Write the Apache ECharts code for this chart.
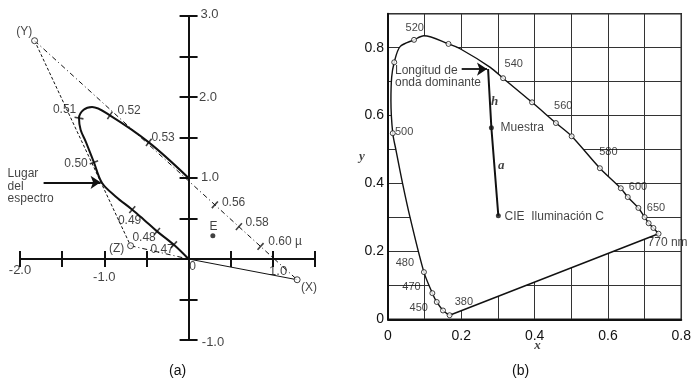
<!DOCTYPE html>
<html>
<head>
<meta charset="utf-8">
<script src="https://cdn.jsdelivr.net/npm/echarts@6.0.0/dist/echarts.min.js"></script>
<style>
html,body{margin:0;padding:0;background:#fff;}
#chart{width:694px;height:381px;}
</style>
</head>
<body>
<div id="chart"></div>
<script>
// ================= Panel (a): r,g chromaticity diagram =================
// tick labels of the crossing axes: value on the axis and text
const aXTickValues = [-2, -1, 1];
const aXTickLabels = ['-2.0', '-1.0', '1.0'];
const aYTickValues = [3, 2, 1, -1];
const aYTickLabels = ['3.0', '2.0', '1.0', '-1.0'];

// spectrum locus (r, g)
const aLocus = [[0,0],[-0.174,0.176],[-0.374,0.341],[-0.53,0.485],[-0.668,0.609],[-0.866,0.773],
  [-1.026,0.938],[-1.123,1.193],[-1.22,1.45],[-1.281,1.596],[-1.30,1.74],[-1.245,1.843],
  [-1.145,1.877],[-0.934,1.773],[-0.472,1.44],[0,1.0]];
// wavelength marks on the locus (µ)
const aLocusMarkNames = ['0.47','0.48','0.49','0.50','0.51','0.52','0.53'];
const aLocusMarks = [[-0.174,0.176],[-0.374,0.341],[-0.668,0.609],[-1.123,1.193],[-1.30,1.74],[-0.934,1.773],[-0.472,1.44]];
// wavelength marks on the Y-X line
const aLineMarkNames = ['0.56','0.58','0.60'];
const aLineMarks = [[0.312,0.669],[0.597,0.399],[0.854,0.155]];
// primaries and equal-energy point
const primaryY = [-1.827, 2.695];
const primaryZ = [-0.688, 0.164];
const primaryX = [1.288, -0.256];
const origin = [0, 0];
const pointE = [0.288, 0.288];

// annotations (text, x, y)
const aLabels = [
  ['(Y)', -1.951, 2.806], ['0.51', -1.471, 1.843], ['0.52', -0.706, 1.831], ['0.53', -0.302, 1.497],
  ['0.50', -1.335, 1.177], ['0.49', -0.70, 0.467], ['0.48', -0.528, 0.257], ['0.47', -0.314, 0.115],
  ['(Z)', -0.854, 0.133], ['0', 0.047, -0.095], ['E', 0.297, 0.399], ['0.56', 0.534, 0.695],
  ['0.58', 0.813, 0.454], ['0.60 µ', 1.145, 0.214], ['(X)', 1.429, -0.348]
];
const aLeftLabels = [['Lugar\ndel\nespectro', -2.147, 1.127]];
const aArrow = [[-1.72, 0.946], [-1.044, 0.946]];

// ================= Panel (b): CIE x,y chromaticity diagram =================
const bXTickLabels = ['0', '0.2', '0.4', '0.6', '0.8'];
const bYTickLabels = ['0', '0.2', '0.4', '0.6', '0.8'];
const bLocus = [[0.168,0.012],[0.150,0.026],[0.133,0.051],[0.121,0.077],[0.098,0.139],[0.060,0.301],
  [0.040,0.399],[0.022,0.497],[0.013,0.548],[0.008,0.644],[0.010,0.713],[0.017,0.757],[0.033,0.803],
  [0.071,0.823],[0.098,0.835],[0.165,0.811],[0.198,0.796],[0.279,0.742],[0.314,0.710],[0.393,0.639],
  [0.458,0.578],[0.501,0.539],[0.578,0.445],[0.635,0.386],[0.654,0.360],[0.683,0.328],[0.700,0.301],
  [0.711,0.283],[0.724,0.269],[0.738,0.252]];
const bMarkers = [[0.168,0.012],[0.150,0.026],[0.133,0.051],[0.121,0.077],[0.098,0.139],[0.013,0.548],
  [0.017,0.757],[0.071,0.823],[0.165,0.811],[0.314,0.710],[0.393,0.639],[0.458,0.578],[0.501,0.539],
  [0.578,0.445],[0.635,0.386],[0.654,0.360],[0.683,0.328],[0.700,0.301],[0.711,0.283],[0.724,0.269],[0.738,0.252]];
const bPurpleLine = [[0.168,0.012],[0.738,0.252]];
const illuminantC = [0.301, 0.305];
const sample = [0.282, 0.564];
const dominant = [0.273, 0.737];

const bLabels = [
  ['520', 0.073, 0.859], ['540', 0.343, 0.752], ['560', 0.478, 0.628], ['580', 0.601, 0.493],
  ['600', 0.682, 0.391], ['650', 0.731, 0.328], ['500', 0.044, 0.552], ['480', 0.046, 0.167],
  ['470', 0.064, 0.095], ['450', 0.084, 0.032], ['380', 0.207, 0.052]
];
const bLeftLabels = [
  ['770 nm', 0.708, 0.225], ['Longitud de', 0.019, 0.731], ['onda dominante', 0.019, 0.697],
  ['Muestra', 0.307, 0.563], ['CIE  Iluminación C', 0.318, 0.302]
];
const bItalicLabels = [['h', 0.291, 0.641], ['a', 0.309, 0.454], ['y', -0.071, 0.478], ['x', 0.408, -0.079]];
const bArrow = [[0.201, 0.737], [0.270, 0.737]];

// ================= Rendering =================
const FONT = 'Liberation Sans, Arial, sans-serif';
const INK = '#111';
// styling-only: rotations of the small cross marks
const aLocusMarkRot = [-42, -40, -41, -68, 80, -33, -38];
const aLineMarkRot = -42;
// styling-only: label placement offsets (in data units) from the tick value
const aXLabelDy = [-0.145, -0.23, -0.157];
const aXLabelDx = [0, 0, 0.062];
const aYLabelDx = [0.249, 0.231, 0.255, 0.29];
const aYLabelDy = [0.016, -0.01, 0.004, -0.03];

function evenLabel(labels, v) {
  const k = Math.round(v * 10);
  if (k % 2 !== 0) return '';
  return labels[k / 2] || '';
}
function annot(list, xi, yi, extra) {
  return Object.assign({
    type: 'scatter', xAxisIndex: xi, yAxisIndex: yi, symbolSize: 0, clip: false, silent: true,
    data: list.map(d => ({ name: d[0], value: [d[1], d[2]] })),
    label: { show: true, position: 'inside', formatter: p => p.name, color: INK, fontSize: 12, fontFamily: FONT },
    z: 10
  }, extra || {});
}
function lineS(data, xi, yi, width, type, extra) {
  return Object.assign({
    type: 'line', xAxisIndex: xi, yAxisIndex: yi, data: data, symbol: 'none', silent: true,
    lineStyle: { color: INK, width: width, type: type }, z: 5
  }, extra || {});
}
function arrowS(pts, xi, yi) {
  return {
    type: 'line', xAxisIndex: xi, yAxisIndex: yi, data: [], silent: true, z: 9,
    markLine: {
      silent: true, symbol: ['none', 'arrow'], symbolSize: 10, animation: false, z: 9,
      itemStyle: { color: INK },
      lineStyle: { color: INK, width: 1.8, type: 'solid' }, label: { show: false },
      emphasis: { disabled: true },
      data: [[{ coord: pts[0] }, { coord: pts[1] }]]
    }
  };
}

const aTickText = []
  .concat(aXTickValues.map((v, i) => [aXTickLabels[i], v + aXLabelDx[i], aXLabelDy[i]]))
  .concat(aYTickValues.map((v, i) => [aYTickLabels[i], aYLabelDx[i], v + aYLabelDy[i]]));

const aAxisBase = {
  gridIndex: 0, type: 'value',
  axisLine: { onZero: true, lineStyle: { color: INK, width: 2 } },
  axisLabel: { show: false },
  splitLine: { show: false }
};

const option = {
  animation: false,
  backgroundColor: '#fff',
  title: [
    { text: '(a)', left: 169, top: 364, padding: 0, textStyle: { fontSize: 14, fontWeight: 'normal', color: INK, fontFamily: FONT } },
    { text: '(b)', left: 512, top: 364, padding: 0, textStyle: { fontSize: 14, fontWeight: 'normal', color: INK, fontFamily: FONT } }
  ],
  grid: [
    { left: 20, top: 16, width: 295, height: 324 },
    { left: 388, top: 13.7, width: 294, height: 305.6, show: true, borderColor: '#222', borderWidth: 1.5, backgroundColor: 'transparent' }
  ],
  xAxis: [
    Object.assign({}, aAxisBase, {
      min: -2, max: 1.5, interval: 0.5, position: 'bottom',
      axisTick: { show: true, inside: false, length: 8, lineStyle: { color: INK, width: 2 } }
    }),
    Object.assign({}, aAxisBase, {
      min: -2, max: 1.5, interval: 0.5, position: 'bottom',
      axisTick: { show: true, inside: true, length: 8, lineStyle: { color: INK, width: 2 } }
    }),
    {
      gridIndex: 1, type: 'value', min: 0, max: 0.8, interval: 0.1,
      axisLine: { lineStyle: { color: INK, width: 2 } }, axisTick: { show: false },
      axisLabel: { margin: 10, fontSize: 14, color: INK, fontFamily: FONT, formatter: v => evenLabel(bXTickLabels, v) },
      splitLine: { show: true, lineStyle: { color: '#333', width: 1 } }
    }
  ],
  yAxis: [
    Object.assign({}, aAxisBase, {
      min: -1, max: 3, interval: 0.5, position: 'left',
      axisTick: { show: true, inside: false, length: 9, lineStyle: { color: INK, width: 2 } }
    }),
    Object.assign({}, aAxisBase, {
      min: -1, max: 3, interval: 0.5, position: 'left',
      axisTick: { show: true, inside: true, length: 9, lineStyle: { color: INK, width: 2 } }
    }),
    {
      gridIndex: 1, type: 'value', min: 0, max: 0.9, interval: 0.1,
      axisLine: { lineStyle: { color: INK, width: 2 } }, axisTick: { show: false },
      axisLabel: { margin: 4, fontSize: 14, color: INK, fontFamily: FONT, formatter: v => evenLabel(bYTickLabels, v) },
      splitLine: { show: true, lineStyle: { color: '#333', width: 1 } }
    }
  ],
  series: [
    // ---------- panel (a) ----------
    lineS([primaryY, primaryZ], 0, 0, 1, [3, 2]),
    lineS([primaryY, primaryX], 0, 0, 1, [5, 3, 1, 3]),
    lineS([primaryZ, origin], 0, 0, 1, [5, 3, 1, 3]),
    lineS([origin, primaryX], 0, 0, 1, 'solid'),
    lineS(aLocus, 0, 0, 2, 'solid', { smooth: 0.35 }),
    {
      type: 'scatter', xAxisIndex: 0, yAxisIndex: 0, silent: true, symbol: 'rect', symbolSize: [1.6, 9],
      itemStyle: { color: INK }, z: 6,
      data: aLocusMarks.map((p, i) => ({ name: aLocusMarkNames[i], value: p, symbolRotate: aLocusMarkRot[i] }))
    },
    {
      type: 'scatter', xAxisIndex: 0, yAxisIndex: 0, silent: true, symbol: 'rect', symbolSize: [1.6, 9],
      itemStyle: { color: INK }, z: 6,
      data: aLineMarks.map((p, i) => ({ name: aLineMarkNames[i], value: p, symbolRotate: aLineMarkRot }))
    },
    {
      type: 'scatter', xAxisIndex: 0, yAxisIndex: 0, silent: true, symbol: 'circle', symbolSize: 6,
      itemStyle: { color: '#fff', borderColor: INK, borderWidth: 1 }, z: 7,
      data: [primaryY, primaryZ, primaryX]
    },
    {
      type: 'scatter', xAxisIndex: 0, yAxisIndex: 0, silent: true, symbol: 'circle', symbolSize: 5,
      itemStyle: { color: INK }, z: 7, data: [pointE]
    },
    annot(aLabels, 0, 0),
    annot(aTickText, 0, 0, { label: { show: true, position: 'inside', formatter: p => p.name, color: INK, fontSize: 13, fontFamily: FONT } }),
    annot(aLeftLabels, 0, 0, { label: { show: true, position: [0, 0], align: 'left', verticalAlign: 'top', lineHeight: 12.5,
      formatter: p => p.name, color: INK, fontSize: 12, fontFamily: FONT } }),
    arrowS(aArrow, 0, 0),

    // ---------- panel (b) ----------
    {
      type: 'custom', xAxisIndex: 2, yAxisIndex: 2, silent: true, data: [[0.4, 0.4]], z: 3,
      renderItem: function (params, api) {
        return { type: 'polygon', shape: { points: bLocus.map(p => api.coord(p)) }, style: { fill: '#fff', stroke: null } };
      }
    },
    lineS(bLocus, 2, 2, 1.4, 'solid', { smooth: 0.3 }),
    lineS(bPurpleLine, 2, 2, 1.4, 'solid'),
    lineS([illuminantC, sample, dominant], 2, 2, 2, 'solid'),
    {
      type: 'scatter', xAxisIndex: 2, yAxisIndex: 2, silent: true, symbol: 'circle', symbolSize: 5,
      itemStyle: { color: '#fff', borderColor: INK, borderWidth: 1 }, z: 7, data: bMarkers
    },
    {
      type: 'scatter', xAxisIndex: 2, yAxisIndex: 2, silent: true, symbol: 'circle', symbolSize: 5,
      itemStyle: { color: INK }, z: 7, data: [illuminantC, sample]
    },
    annot(bLabels, 2, 2, { label: { show: true, position: 'inside', formatter: p => p.name, color: INK, fontSize: 11, fontFamily: FONT } }),
    annot(bLeftLabels, 2, 2, { label: { show: true, position: 'inside', align: 'left', verticalAlign: 'middle',
      formatter: p => p.name, color: INK, fontSize: 12, fontFamily: FONT } }),
    annot(bItalicLabels, 2, 2, { label: { show: true, position: 'inside', formatter: p => p.name, color: INK,
      fontSize: 13, fontStyle: 'italic', fontWeight: 'bold', fontFamily: 'Liberation Serif, serif' } }),
    arrowS(bArrow, 2, 2)
  ]
};

const chart = echarts.init(document.getElementById('chart'), null, { renderer: 'canvas' });
chart.setOption(option);
</script>
</body>
</html>
